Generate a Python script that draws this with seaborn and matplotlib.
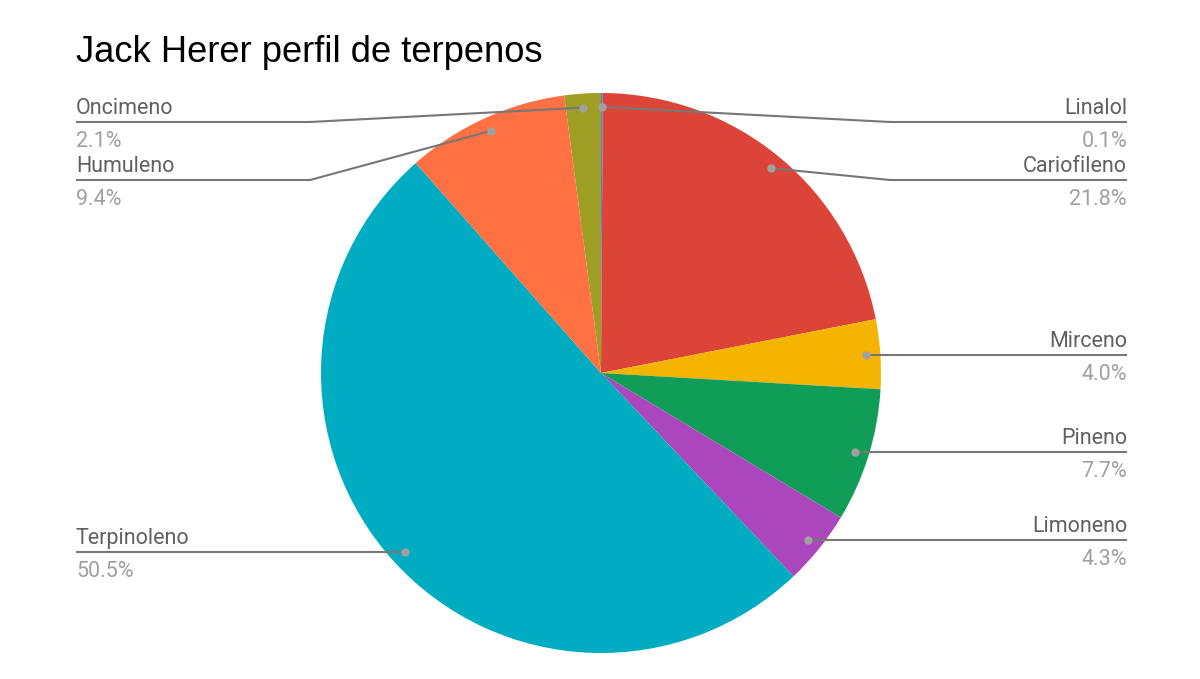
import numpy as np
import seaborn as sns
import matplotlib.pyplot as plt

# data
terpenos = ['Linalol', 'Cariofileno', 'Mirceno', 'Pineno', 'Limoneno',
            'Terpinoleno', 'Humuleno', 'Oncimeno']
porcentajes = [0.1, 21.8, 4.0, 7.7, 4.3, 50.5, 9.4, 2.1]
colores = ['#4285F4', '#DB4437', '#F4B400', '#0F9D58', '#AB47BC',
           '#00ACC1', '#FF7043', '#9E9D24']

sns.set_theme(style='white')
plt.rcParams['font.family'] = ['Roboto', 'DejaVu Sans']

W, H = 1200, 679
fig = plt.figure(figsize=(W / 100, H / 100), dpi=100)
ax = fig.add_axes([0, 0, 1, 1])

# pie geometry in pixels (y up)
cx, cy, r = 601, H - 373, 280
wedges, _ = ax.pie(porcentajes, colors=sns.color_palette(colores), startangle=90,
                   counterclock=False, center=(cx, cy), radius=r, frame=True,
                   wedgeprops={'linewidth': 0})
ax.set_xlim(0, W)
ax.set_ylim(0, H)
ax.set_aspect('auto')
ax.axis('off')

ax.text(76, H - 62, 'Jack Herer perfil de terpenos', fontsize=26.2,
        family=['Liberation Sans', 'DejaVu Sans'],
        color='#000000', ha='left', va='baseline')

# leader dots at 0.95 r on the mid angle of each wedge
info = []
for w, nombre, pct in zip(wedges, terpenos, porcentajes):
    ang = np.deg2rad((w.theta1 + w.theta2) / 2)
    dx, dy = cx + 0.95 * r * np.cos(ang), cy + 0.95 * r * np.sin(ang)
    info.append((nombre, pct, dx, dy))

top_y, gap = H - 122, 58
for lado in ('der', 'izq'):
    grupo = [i for i in info if (i[2] >= cx - 1 if lado == 'der' else i[2] < cx - 1)]
    grupo.sort(key=lambda i: -i[3])
    prev = None
    for nombre, pct, dx, dy in grupo:
        ly = min(dy, top_y)
        if prev is not None:
            ly = min(ly, prev - gap)
        prev = ly
        if lado == 'der':
            bx, ex, tx, ha = 890, 1127, 1127, 'right'
        else:
            bx, ex, tx, ha = 310, 76, 76, 'left'
        if abs(ly - dy) < 1:
            xs, ys = [dx, ex], [dy, ly]
        else:
            xs, ys = [dx, bx, ex], [dy, ly, ly]
        ax.plot(xs, ys, color='#777777', lw=1.5, solid_capstyle='butt', zorder=3)
        ax.plot(dx, dy, 'o', ms=6, color='#a0a0a0', mec='none', zorder=4)
        ax.text(tx, ly + 8, nombre, fontsize=15.5, color='#606060', ha=ha, va='baseline')
        ax.text(tx, ly - 9, f'{pct:.1f}%', fontsize=15.5, color='#a0a0a0', ha=ha, va='top')

fig.savefig('out.png', dpi=100, facecolor='white')
